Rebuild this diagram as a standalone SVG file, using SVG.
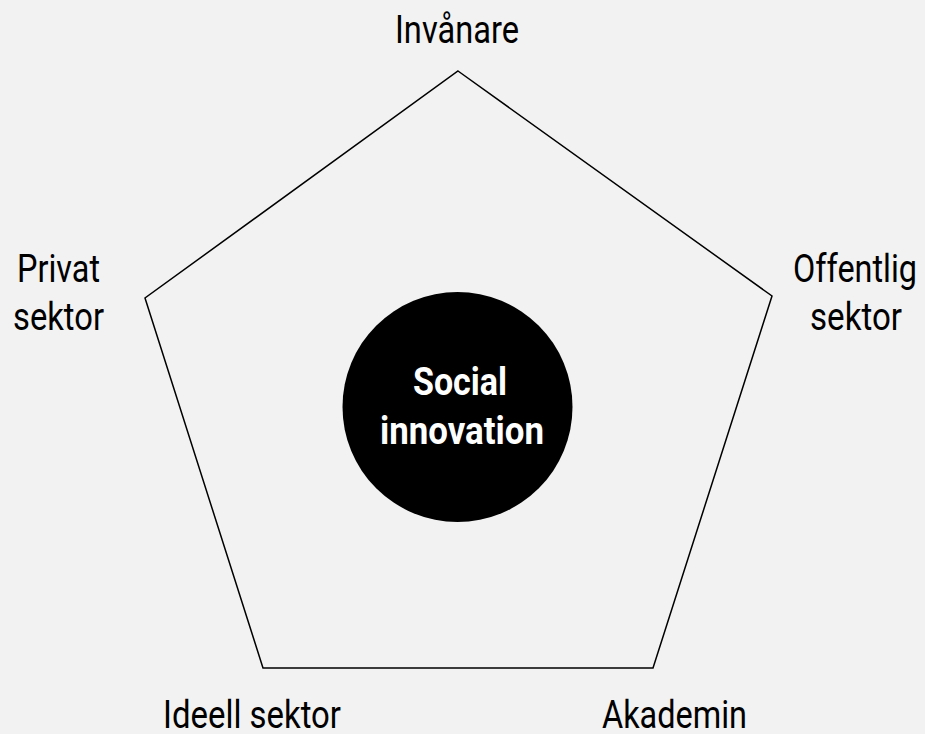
<svg xmlns="http://www.w3.org/2000/svg" width="925" height="734" viewBox="0 0 925 734">
<style>
.lbl{font-family:Roboto,"Liberation Sans",sans-serif;font-size:39px;fill:#000;text-anchor:middle}
.ctr{font-family:Roboto,"Liberation Sans",sans-serif;font-size:38px;font-weight:bold;fill:#fff;text-anchor:middle}
</style>
<rect width="925" height="734" fill="#f2f2f2"/>
<g id="connectors">
<polygon points="458,71 772,296 653,668 263,668 145,298" fill="none" stroke="#000" stroke-width="1.5" stroke-linejoin="miter"/>
</g>
<g id="center">
<circle cx="457.5" cy="407" r="115" fill="#000"/>
<text class="ctr" x="460" y="395" textLength="94" lengthAdjust="spacingAndGlyphs">Social</text>
<text class="ctr" x="462" y="444" textLength="164" lengthAdjust="spacingAndGlyphs">innovation</text>
</g>
<g id="invanare"><text class="lbl" x="457" y="43" textLength="124" lengthAdjust="spacingAndGlyphs">Invånare</text></g>
<g id="privat">
<text class="lbl" x="58.5" y="282" textLength="83" lengthAdjust="spacingAndGlyphs">Privat</text>
<text class="lbl" x="58.5" y="330" textLength="91" lengthAdjust="spacingAndGlyphs">sektor</text>
</g>
<g id="offentlig">
<text class="lbl" x="855" y="282" textLength="124" lengthAdjust="spacingAndGlyphs">Offentlig</text>
<text class="lbl" x="856" y="330" textLength="92" lengthAdjust="spacingAndGlyphs">sektor</text>
</g>
<g id="ideell"><text class="lbl" x="252" y="728" textLength="178" lengthAdjust="spacingAndGlyphs">Ideell sektor</text></g>
<g id="akademin"><text class="lbl" x="674.5" y="728" textLength="145" lengthAdjust="spacingAndGlyphs">Akademin</text></g>
</svg>
